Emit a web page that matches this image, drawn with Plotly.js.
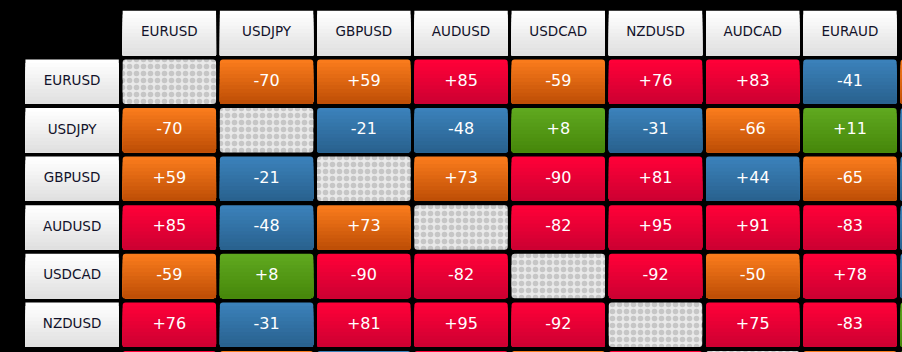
<!DOCTYPE html>
<html>
<head>
<meta charset="utf-8">
<script src="https://cdn.plot.ly/plotly-3.0.1.min.js"></script>
<style>
html,body{margin:0;padding:0;background:#000;overflow:hidden}
#chart{width:902px;height:352px}
</style>
</head>
<body>
<div id="chart"></div>
<script>
// ---- data ----
const columnLabels = ['EURUSD','USDJPY','GBPUSD','AUDUSD','USDCAD','NZDUSD','AUDCAD','EURAUD'];
const rowLabels    = ['EURUSD','USDJPY','GBPUSD','AUDUSD','USDCAD','NZDUSD'];
// correlation values per row (null = same pair); the 9th entry belongs to a column cut off at the right edge,
// and rowAUDCAD is a row cut off at the bottom edge (only its top pixel is visible)
const rowEURUSD = [null, -70,  59,  85, -59,  76,  83, -41, -60];
const rowUSDJPY = [ -70, null, -21, -48,   8, -31, -66,  11, -30];
const rowGBPUSD = [  59, -21, null,  73, -90,  81,  44, -65,  35];
const rowAUDUSD = [  85, -48,  73, null, -82,  95,  91, -83, -40];
const rowUSDCAD = [ -59,   8, -90, -82, null, -92, -50,  78,  40];
const rowNZDUSD = [  76, -31,  81,  95, -92, null,  75, -83, -10];
const rowAUDCAD = [  83, -66,  44,  91, -50,  75, null, -60,  10];
const valueRows = [rowEURUSD,rowUSDJPY,rowGBPUSD,rowAUDUSD,rowUSDCAD,rowNZDUSD,rowAUDCAD];

// ---- styling ----
const palette = {
  red:    {top:'#ff0038', bottom:'#cd0032'},
  orange: {top:'#f97b1c', bottom:'#bf4f06'},
  blue:   {top:'#3b81ba', bottom:'#29628f'},
  green:  {top:'#5fa81f', bottom:'#47880b'},
  header: {top:'#ffffff', bottom:'#e0e0e0'}
};
function band(v){
  const a = Math.abs(v);
  if (a < 20) return 'green';
  if (a < 50) return 'blue';
  if (a < 75) return 'orange';
  return 'red';
}
function hexToRgb(h){return [1,3,5].map(i=>parseInt(h.substr(i,2),16));}
function lerp(c1,c2,t){
  const a=hexToRgb(c1), b=hexToRgb(c2);
  return 'rgb('+a.map((v,i)=>Math.round(v+(b[i]-v)*t)).join(',')+')';
}
const W = 0.9606, H = 0.9156, N = 12, R = 3;
const FONT = 'DejaVu Sans, Verdana, sans-serif';
const lastVisibleCol = columnLabels.length - 1, lastVisibleRow = rowLabels.length - 1;

// ---- build cell lists from data ----
const cells = [], diag = [];
valueRows.forEach((row, r) => row.forEach((v, c) => {
  if (v === null) diag.push({x:c, y:r});
  else cells.push({x:c, y:r, v:v, b:band(v)});
}));
const heads = [];
columnLabels.forEach((l, c) => heads.push({x:c, y:-1, label:l}));
rowLabels.forEach((l, r) => heads.push({x:-1, y:r, label:l}));

const traces = [];
function barTrace(list, baseFn, sizeFn, colors, radius, pattern){
  const marker = {color:colors, cornerradius:radius, line:{width:0}};
  if (pattern) marker.pattern = pattern;
  return {
    type:'bar', x:list.map(d=>d.x), base:list.map(baseFn), y:list.map(sizeFn),
    width:W, orientation:'v', hoverinfo:'skip', marker:marker
  };
}

// header cells (square corners, subtle vertical gradient)
traces.push(barTrace(heads, d=>d.y-H/2, ()=>H, palette.header.top, 0));
for (let k=1; k<N; k++){
  const f = (N-k)/N;
  traces.push(barTrace(heads, d=>d.y+H/2-f*H, ()=>f*H, lerp(palette.header.top, palette.header.bottom, k/(N-1)), 0));
}

// coloured cells: rounded halves + stepped gradient from the bottom
traces.push(barTrace(cells, d=>d.y, ()=>-H/2, cells.map(d=>palette[d.b].top), R));
traces.push(barTrace(cells, d=>d.y, ()=> H/2, cells.map(d=>palette[d.b].top), R));
for (let k=1; k<N; k++){
  const f = (N-k)/N;
  traces.push(barTrace(cells, d=>d.y+H/2-f*H, ()=>f*H,
    cells.map(d=>lerp(palette[d.b].top, palette[d.b].bottom, k/(N-1))), R));
}

// diagonal (checkered) cells
const checker = {shape:'.', fgcolor:'#c6c6c6', bgcolor:'#e9e9e9', size:7, solidity:0.5, fillmode:'replace'};
traces.push(barTrace(diag, d=>d.y, ()=>-H/2, '#e9e9e9', R, checker));
traces.push(barTrace(diag, d=>d.y, ()=> H/2, '#e9e9e9', R, checker));
traces.push(barTrace(diag, d=>d.y-H/4, ()=> H/2, '#e9e9e9', 0, checker));

// labels (only for cells inside the visible window)
const shownCells = cells.filter(d => d.x <= lastVisibleCol && d.y <= lastVisibleRow);
traces.push({type:'scatter', mode:'text', x:heads.map(d=>d.x), y:heads.map(d=>d.y),
  text:heads.map(d=>d.label), textposition:'middle center', hoverinfo:'skip',
  textfont:{family:FONT, size:13.5, color:'#12122a'}});
traces.push({type:'scatter', mode:'text', x:shownCells.map(d=>d.x), y:shownCells.map(d=>d.y),
  text:shownCells.map(d=>(d.v>0?'+':'')+d.v), textposition:'middle center', hoverinfo:'skip',
  textfont:{family:FONT, size:16, color:'#ffffff'}});

const layout = {
  width:902, height:352, margin:{l:0,r:0,t:0,b:0,pad:0},
  paper_bgcolor:'#000000', plot_bgcolor:'#000000',
  barmode:'overlay', showlegend:false,
  xaxis:{range:[-1.7418, 7.5352], visible:false, fixedrange:true},
  yaxis:{range:[5.563, -1.680], visible:false, fixedrange:true}
};
Plotly.newPlot('chart', traces, layout, {staticPlot:true, displayModeBar:false});
</script>
</body>
</html>
